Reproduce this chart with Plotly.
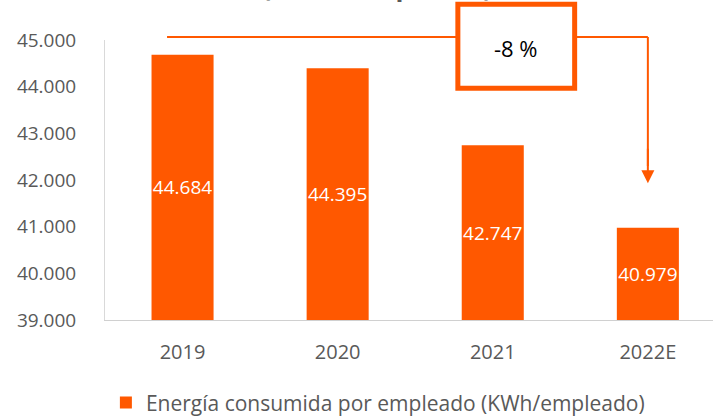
import plotly.graph_objects as go

categories = ["2019", "2020", "2021", "2022E"]
values = [44684, 44395, 42747, 40979]
series_name = "Energía consumida por empleado (KWh/empleado)"
y_ticks = [39000, 40000, 41000, 42000, 43000, 44000, 45000]
change_label = "-8 %"
title_text = "(KWh / empleado)"

ORANGE = "#FF5800"
GRAY = "#595959"
FONT = "Open Sans"

floor = y_ticks[0]
fig = go.Figure()
fig.add_trace(go.Bar(
    x=categories, y=[v - floor for v in values], base=floor, name=series_name,
    marker=dict(color=ORANGE, line=dict(width=0)),
    width=0.4,
    text=[f"{v:,}".replace(",", ".") for v in values],
    textposition="inside", insidetextanchor="middle",
    constraintext="none", textangle=0,
    insidetextfont=dict(color="white", size=19, family=FONT),
    hoverinfo="skip",
))

fig.update_layout(
    width=713, height=417,
    margin=dict(l=105, r=0, t=40, b=97, autoexpand=False),
    paper_bgcolor="white", plot_bgcolor="white",
    separators=",.",
    font=dict(family=FONT, color=GRAY),
    showlegend=True,
    legend=dict(orientation="h", xref="container", yref="container",
                x=0.53, xanchor="center", y=0.034, yanchor="middle",
                font=dict(size=21, color=GRAY, family=FONT), itemwidth=30),
    xaxis=dict(range=[-0.5, 3.42], showgrid=False, showline=True, linecolor="#D0D0D0",
               linewidth=1, ticks="", tickfont=dict(size=20, color=GRAY), ticklabelstandoff=14,
               automargin=False, fixedrange=True),
    yaxis=dict(range=[y_ticks[0], y_ticks[-1]], tickvals=y_ticks, tickformat=",d",
               showgrid=False, showline=True, linecolor="#D9D9D9", linewidth=1, ticks="",
               tickfont=dict(size=19, color=GRAY), ticklabelstandoff=24, zeroline=False,
               automargin=False, fixedrange=True),
)

# connector line and arrow (paper y above plot top)
y_line = 1 + 3 / 280
fig.add_shape(type="line", xref="x", yref="paper", x0=-0.1, x1=3, y0=y_line, y1=y_line,
              line=dict(color=ORANGE, width=2), layer="above")
fig.add_shape(type="line", xref="x", yref="paper", x0=3, x1=3, y0=y_line, y1=0.55,
              line=dict(color=ORANGE, width=2), layer="above")
fig.add_annotation(xref="x", yref="y", axref="x", ayref="y", x=3, y=41930, ax=3, ay=42700,
                   showarrow=True, arrowhead=2, arrowsize=1.3, arrowwidth=2, arrowcolor=ORANGE, text="")
fig.add_shape(type="rect", xref="x", yref="paper", x0=1.775, x1=2.528, y0=0.828, y1=1.128,
              line=dict(color=ORANGE, width=5), fillcolor="white", layer="above")
fig.add_annotation(xref="x", yref="paper", x=(1.775 + 2.528) / 2, y=0.971, yanchor="middle",
                   xanchor="center", text=change_label,
                   showarrow=False, font=dict(size=22, color="black", family=FONT))
fig.add_annotation(xref="paper", yref="paper", x=(377 - 105) / 608, y=1.123, yanchor="bottom",
                   xanchor="center", text="<b>" + title_text + "</b>", showarrow=False,
                   font=dict(size=26, color=GRAY, family=FONT))

fig.write_html("out.html", config={"displayModeBar": False, "staticPlot": True},
               post_script="document.body.style.margin='0';")
